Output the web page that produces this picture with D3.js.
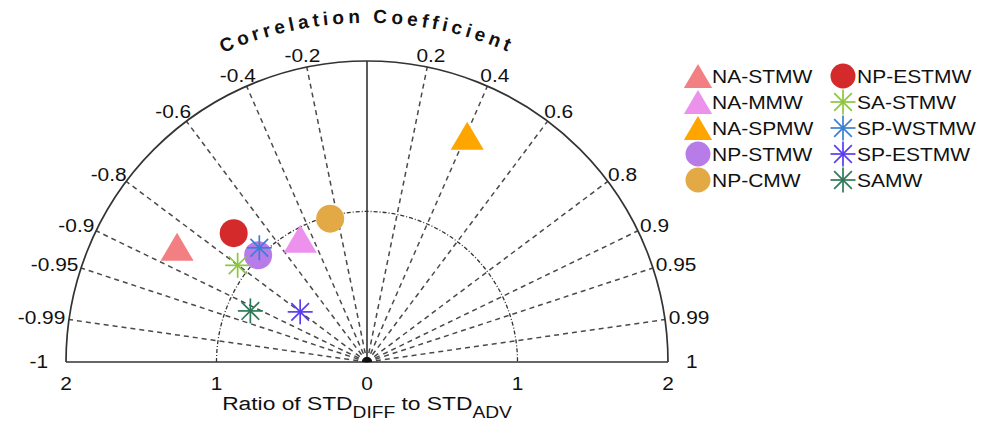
<!DOCTYPE html>
<html><head><meta charset="utf-8">
<script src="https://cdn.jsdelivr.net/npm/d3@7"></script>
<style>
html,body{margin:0;padding:0;background:#fff;}
svg{display:block;font-family:"Liberation Sans",Arial,Helvetica,sans-serif;}
</style>
</head><body>
<svg id="chart" width="981" height="436"></svg>
<script>
// Water-mass series: correlation with advection and std ratio (DIFF / ADV)
const seriesNames  = ["NA-STMW","NA-MMW","NA-SPMW","NP-STMW","NP-CMW","NP-ESTMW","SA-STMW","SP-WSTMW","SP-ESTMW","SAMW"];
const correlations = [-0.855, -0.476, 0.405, -0.714, -0.249, -0.719, -0.801, -0.686, -0.800, -0.916];
const stdRatios    = [1.476, 0.932, 1.644, 1.013, 0.983, 1.232, 1.073, 1.043, 0.555, 0.846];
const markerShapes = ["triangle","triangle","triangle","circle","circle","circle","star","star","star","star"];
const markerColors = ["#f27f82","#ec92ec","#ffa500","#b87ce8","#e3a944","#d42a2c","#8cc63f","#3a7fd4","#5a3cf0","#2e7a58"];

// Axis ticks
const corrTicks  = [-1,-0.99,-0.95,-0.9,-0.8,-0.6,-0.4,-0.2,0.2,0.4,0.6,0.8,0.9,0.95,0.99,1];
const corrLabels = ["-1","-0.99","-0.95","-0.9","-0.8","-0.6","-0.4","-0.2","0.2","0.4","0.6","0.8","0.9","0.95","0.99","1"];
const stdTicks   = [-2,-1,0,1,2];
const stdLabels  = ["2","1","0","1","2"];

const svg = d3.select("#chart");
const cx = 367, cy = 362;
const rScale = d3.scaleLinear().domain([0, 2]).range([0, 301]);
const xScale = d3.scaleLinear().domain([-2, 2]).range([cx - 301, cx + 301]);
const polar = (c, r) => {
  const a = Math.acos(c);
  return [cx + rScale(r) * Math.cos(a), cy - rScale(r) * Math.sin(a)];
};
const TX = 1.16; // horizontal text stretch

const grid = svg.append("g");

// correlation rays
corrTicks.filter(c => Math.abs(c) < 1).forEach(c => {
  const [x2, y2] = polar(c, 2);
  grid.append("line")
    .attr("x1", cx).attr("y1", cy).attr("x2", x2).attr("y2", y2)
    .attr("stroke", "#4a4a4a").attr("stroke-width", 1.5)
    .attr("stroke-dasharray", "5,4");
});

// zero-correlation line
grid.append("line")
  .attr("x1", cx).attr("y1", cy).attr("x2", cx).attr("y2", cy - rScale(2))
  .attr("stroke", "#333").attr("stroke-width", 1.6);

// reference arc at ratio 1
const refArc = d3.path();
refArc.arc(cx, cy, rScale(1), Math.PI, 2 * Math.PI);
grid.append("path").attr("d", refArc.toString())
  .attr("fill", "none").attr("stroke", "#333").attr("stroke-width", 1.3)
  .attr("stroke-dasharray", "4,2,1,2");

// outer arc + baseline
const outerArc = d3.path();
outerArc.arc(cx, cy, rScale(2), Math.PI, 2 * Math.PI);
grid.append("path").attr("d", outerArc.toString())
  .attr("fill", "none").attr("stroke", "#333").attr("stroke-width", 1.7);
grid.append("line")
  .attr("x1", xScale(-2)).attr("y1", cy).attr("x2", xScale(2)).attr("y2", cy)
  .attr("stroke", "#333").attr("stroke-width", 1.7);

// centre marker
const hub = d3.path();
hub.moveTo(cx - 5, cy); hub.arc(cx, cy, 5, Math.PI, 2 * Math.PI); hub.closePath();
grid.append("path").attr("d", hub.toString()).attr("fill", "#111");

// helper: stretched text
function stext(parent, x, y, str, size, anchor, opts = {}) {
  const t = parent.append("text")
    .attr("transform", `translate(${x},${y}) scale(${opts.sx || TX},1)`)
    .attr("font-size", size).attr("text-anchor", anchor || "start")
    .attr("dominant-baseline", opts.baseline || "central")
    .attr("fill", "#111").text(str);
  if (opts.weight) t.attr("font-weight", opts.weight);
  return t;
}

// correlation tick labels
corrTicks.forEach((c, i) => {
  const [px, py] = polar(c, 2);
  const a = Math.acos(c);
  const t = stext(svg, 0, 0, corrLabels[i], 18, "middle");
  const w = t.node().getComputedTextLength() * TX;
  const pad = Math.abs(c) === 1 ? 18 : 4;
  const x = px + Math.cos(a) * (w / 2 + pad);
  const y = py - Math.sin(a) * 12;
  t.attr("transform", `translate(${x},${y}) scale(${TX},1)`);
});

// std ratio tick labels
stdTicks.forEach((s, i) => stext(svg, xScale(s), 384, stdLabels[i], 18, "middle"));

// axis title with subscripts
const xt = svg.append("text")
  .attr("font-size", 19).attr("fill", "#111").attr("text-anchor", "middle");
xt.append("tspan").text("Ratio of STD");
xt.append("tspan").attr("font-size", 16).attr("dy", 8).text("DIFF");
xt.append("tspan").attr("dy", -8).text(" to STD");
xt.append("tspan").attr("font-size", 16).attr("dy", 8).text("ADV");
xt.attr("transform", `translate(${cx},${410}) scale(1.2,1)`);

// curved title
const titlePath = d3.path();
titlePath.arc(cx, cy + 20, 359, Math.PI, 2 * Math.PI);
svg.append("path").attr("id", "titleArc").attr("d", titlePath.toString()).attr("fill", "none");
svg.append("text")
  .attr("font-size", 19).attr("font-weight", "bold").attr("fill", "#111")
  .attr("letter-spacing", 4)
  .append("textPath").attr("href", "#titleArc")
  .attr("startOffset", "50%").attr("text-anchor", "middle")
  .text("Correlation Coefficient");

// marker drawing
function drawMarker(g, shape, color, size) {
  if (shape === "triangle") {
    const w = size * 1.18, h = size;
    g.append("path").attr("d", `M0,${-h/2}L${w/2},${h/2}L${-w/2},${h/2}Z`).attr("fill", color);
  } else if (shape === "circle") {
    g.append("circle").attr("r", size / 2).attr("fill", color);
  } else {
    const r = size / 2;
    [0, 45, 90, 135].forEach(deg => {
      const a = deg * Math.PI / 180;
      g.append("line")
        .attr("x1", -r * Math.cos(a)).attr("y1", -r * Math.sin(a))
        .attr("x2", r * Math.cos(a)).attr("y2", r * Math.sin(a))
        .attr("stroke", color).attr("stroke-width", 1.7);
    });
  }
}

const plotSize = { triangle: 28, circle: 28, star: 25 };
const pts = svg.append("g");
seriesNames.forEach((n, i) => {
  const [x, y] = polar(correlations[i], stdRatios[i]);
  const g = pts.append("g").attr("transform", `translate(${x},${y})`);
  drawMarker(g, markerShapes[i], markerColors[i], plotSize[markerShapes[i]]);
});

// legend
const legendSize = { triangle: 24, circle: 25, star: 25 };
const legend = svg.append("g");
seriesNames.forEach((n, i) => {
  const col = i < 5 ? 0 : 1, row = i % 5;
  const mx = col === 0 ? 698 : 843, y = 76 + row * 26;
  const g = legend.append("g").attr("transform", `translate(${mx},${y})`);
  drawMarker(g, markerShapes[i], markerColors[i], legendSize[markerShapes[i]]);
  stext(legend, mx + 14, y + 1, n, 17.5, "start", { sx: 1.2 });
});
</script>
</body></html>
